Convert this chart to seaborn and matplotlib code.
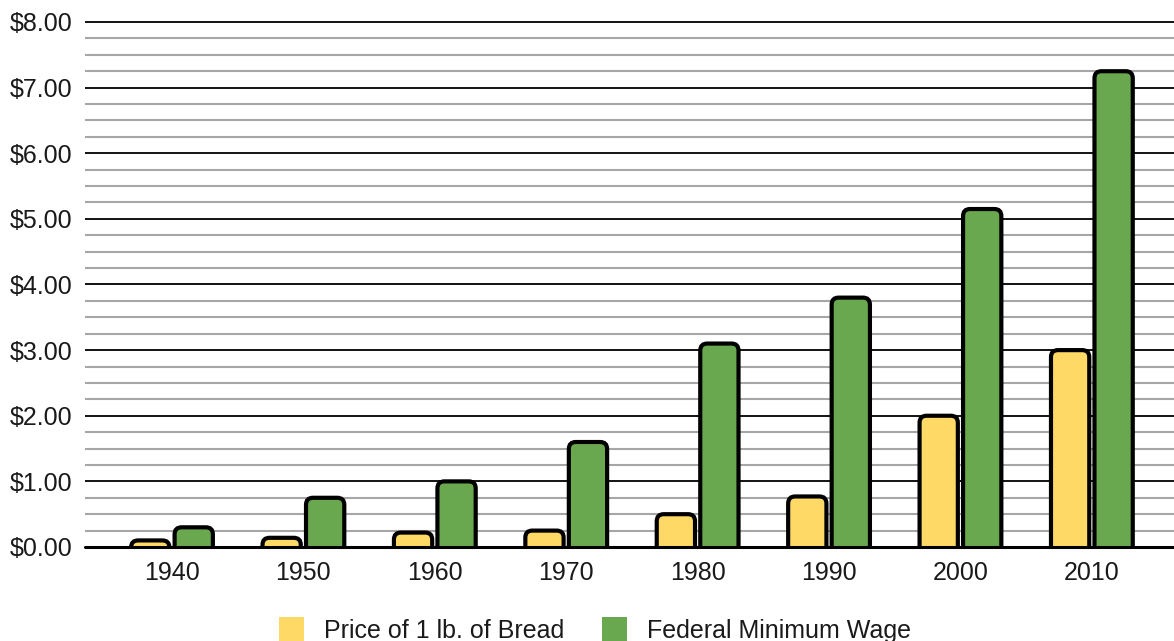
import matplotlib
matplotlib.use("Agg")
import matplotlib.pyplot as plt
from matplotlib.patches import FancyBboxPatch, Patch
from matplotlib.ticker import MultipleLocator, FuncFormatter
import seaborn as sns
import pandas as pd

years = ["1940", "1950", "1960", "1970", "1980", "1990", "2000", "2010"]
bread_price = [0.10, 0.14, 0.22, 0.25, 0.50, 0.77, 2.00, 3.00]
min_wage = [0.30, 0.75, 1.00, 1.60, 3.10, 3.80, 5.15, 7.25]
series_names = ["Price of 1 lb. of Bread", "Federal Minimum Wage"]
series_colors = ["#FFD966", "#6AA84F"]

df = pd.DataFrame({
    "year": years * 2,
    "value": bread_price + min_wage,
    "series": [series_names[0]] * len(years) + [series_names[1]] * len(years),
})

sns.set_theme(style="white")
plt.rcParams["font.family"] = ["Liberation Sans", "DejaVu Sans"]

W, H = 1174, 641
fig = plt.figure(figsize=(W / 100, H / 100), dpi=100)
ax = fig.add_axes([85 / W, 1 - 547 / H, 1 - 85 / W, (547 - 20) / H])

sns.barplot(data=df, x="year", y="value", hue="series", order=years,
            hue_order=series_names, palette=series_colors, saturation=1,
            width=0.662, gap=0.12, ax=ax, legend=False, zorder=3)

# pixel geometry used for rounded corners
x0, x1 = -0.662, 7.625
y_per_px = 8.0 / 525
ax.set_xlim(x0, x1)
ax.set_ylim(0, 8 + 2 * y_per_px)
x_per_px = (x1 - x0) / (W - 85)
radius_px = 7
rs = radius_px * x_per_px
aspect = y_per_px / x_per_px

for p in list(ax.patches):
    x, y = p.get_x(), p.get_y()
    w, h = p.get_width(), p.get_height()
    fc = p.get_facecolor()
    p.remove()
    pad_below = radius_px * y_per_px * 1.5
    fb = FancyBboxPatch((x, y - pad_below), w, h + pad_below,
                        boxstyle=f"round,pad=0,rounding_size={rs}",
                        mutation_aspect=aspect, facecolor=fc,
                        edgecolor="black", linewidth=3.0, zorder=3)
    ax.add_patch(fb)

# gridlines
ax.yaxis.set_major_locator(MultipleLocator(1.0))
ax.yaxis.set_minor_locator(MultipleLocator(0.25))
ax.grid(which="major", axis="y", color="black", linewidth=1.3, zorder=1)
ax.grid(which="minor", axis="y", color="#a6a6a6", linewidth=1.5, zorder=0)
ax.grid(axis="x", visible=False)
ax.set_axisbelow(True)
ax.axhline(0, color="black", linewidth=2.2, zorder=5, clip_on=False)

ax.yaxis.set_major_formatter(FuncFormatter(lambda v, _: f"${v:.2f}"))
ax.tick_params(axis="y", which="both", length=0, pad=9, labelsize=18,
               labelcolor="#1a1a1a")
ax.tick_params(axis="x", length=0, pad=10, labelsize=18, labelcolor="#1a1a1a")
ax.set_xlabel("")
ax.set_ylabel("")
for s in ax.spines.values():
    s.set_visible(False)

handles = [Patch(facecolor=c, edgecolor="none") for c in series_colors]
fig.legend(handles, series_names, loc="upper center",
           bbox_to_anchor=(595 / W, 1 - 599 / H), ncol=2, frameon=False,
           fontsize=18, handlelength=1.0, handleheight=1.25,
           handletextpad=0.8, columnspacing=1.5, labelcolor="#1a1a1a",
           borderpad=0.2)

fig.savefig("out.png", dpi=100)
